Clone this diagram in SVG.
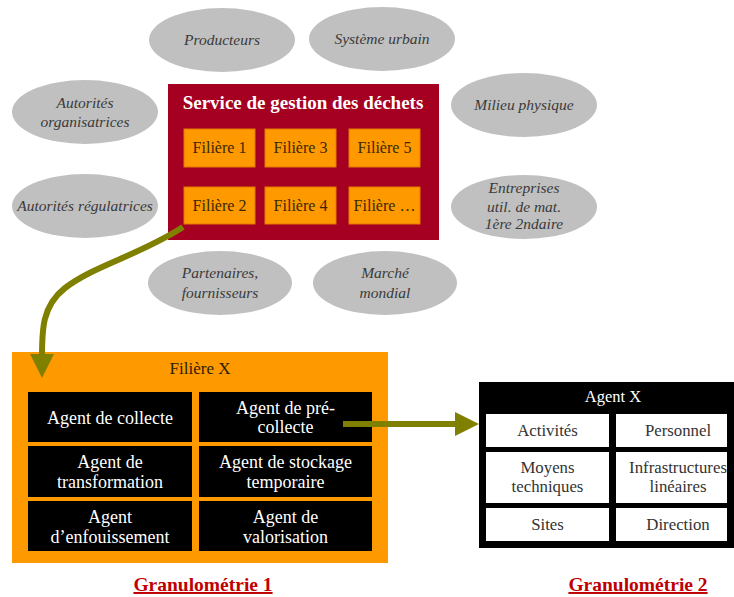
<svg xmlns="http://www.w3.org/2000/svg" width="734" height="597" viewBox="0 0 734 597">
<style>
.ell{fill:#C0C0C0}
.et{font-family:"Liberation Serif",serif;font-style:italic;font-size:15.5px;fill:#3a3a3a;text-anchor:middle}
.fil{fill:#FF9900;stroke:#E27A00;stroke-width:1}
.ft{font-family:"Liberation Serif",serif;font-size:16px;fill:#3a2800;text-anchor:middle}
.blk{fill:#000}
.wt{font-family:"Liberation Serif",serif;font-size:18px;fill:#fff;text-anchor:middle}
.cell{fill:#fff}
.ct{font-family:"Liberation Serif",serif;font-size:16.8px;fill:#333;text-anchor:middle}
.gr{font-family:"Liberation Serif",serif;font-size:19.5px;font-weight:bold;fill:#C00000;text-anchor:middle;text-decoration:underline}
.con{fill:none;stroke:#808000;stroke-width:6}
</style>
<defs>
<marker id="ah" markerWidth="4" markerHeight="4" refX="0.5" refY="2" orient="auto" markerUnits="strokeWidth">
<path d="M0,0 L4,2 L0,4 Z" fill="#808000"/>
</marker>
</defs>

<g id="producteurs"><ellipse class="ell" cx="222" cy="40" rx="73" ry="32"/><text class="et" x="222" y="45">Producteurs</text></g>
<g id="systeme-urbain"><ellipse class="ell" cx="382" cy="39" rx="73" ry="32"/><text class="et" x="382" y="44">Système urbain</text></g>
<g id="autorites-organisatrices"><ellipse class="ell" cx="85" cy="112" rx="73" ry="32"/><text class="et" x="85" y="108">Autorités</text><text class="et" x="85" y="127">organisatrices</text></g>
<g id="milieu-physique"><ellipse class="ell" cx="524" cy="105" rx="73" ry="32"/><text class="et" x="524" y="110">Milieu physique</text></g>
<g id="autorites-regulatrices"><ellipse class="ell" cx="85" cy="206" rx="73" ry="32"/><text class="et" x="85" y="211">Autorités régulatrices</text></g>
<g id="entreprises"><ellipse class="ell" cx="524" cy="207" rx="73" ry="32"/><text class="et" x="524" y="193">Entreprises</text><text class="et" x="524" y="212">util. de mat.</text><text class="et" x="524" y="229">1ère 2ndaire</text></g>
<g id="partenaires"><ellipse class="ell" cx="220" cy="283" rx="72" ry="32"/><text class="et" x="220" y="278">Partenaires,</text><text class="et" x="220" y="298">fournisseurs</text></g>
<g id="marche-mondial"><ellipse class="ell" cx="385" cy="283" rx="72" ry="32"/><text class="et" x="385" y="278">Marché</text><text class="et" x="385" y="298">mondial</text></g>

<g id="service">
<rect x="168" y="84" width="271" height="156" fill="#A50021"/>
<text x="303" y="109" font-family="Liberation Serif,serif" font-size="19" font-weight="bold" fill="#fff" text-anchor="middle">Service de gestion des déchets</text>
</g>
<g id="filiere-1"><rect class="fil" x="184" y="129" width="71" height="38"/><text class="ft" x="219.5" y="153">Filière 1</text></g>
<g id="filiere-3"><rect class="fil" x="265" y="129" width="71" height="38"/><text class="ft" x="300.5" y="153">Filière 3</text></g>
<g id="filiere-5"><rect class="fil" x="349" y="129" width="71" height="38"/><text class="ft" x="384.5" y="153">Filière 5</text></g>
<g id="filiere-2"><rect class="fil" x="184" y="187" width="71" height="37"/><text class="ft" x="219.5" y="211">Filière 2</text></g>
<g id="filiere-4"><rect class="fil" x="265" y="187" width="71" height="37"/><text class="ft" x="300.5" y="211">Filière 4</text></g>
<g id="filiere-n"><rect class="fil" x="349" y="187" width="71" height="37"/><text class="ft" x="384.5" y="211">Filière …</text></g>

<g id="filiere-x">
<rect x="12" y="352" width="376" height="211" fill="#FF9900"/>
<text x="200" y="374" font-family="Liberation Serif,serif" font-size="17" fill="#2a2000" text-anchor="middle">Filière X</text>
</g>
<g id="agent-collecte"><rect class="blk" x="28" y="392" width="164" height="50"/><text class="wt" x="110" y="424">Agent de collecte</text></g>
<g id="agent-precollecte"><rect class="blk" x="199" y="392" width="173" height="50"/><text class="wt" x="285.5" y="414">Agent de pré-</text><text class="wt" x="285.5" y="433">collecte</text></g>
<g id="agent-transformation"><rect class="blk" x="28" y="446" width="164" height="51"/><text class="wt" x="110" y="468">Agent de</text><text class="wt" x="110" y="488">transformation</text></g>
<g id="agent-stockage"><rect class="blk" x="199" y="446" width="173" height="51"/><text class="wt" x="285.5" y="468">Agent de stockage</text><text class="wt" x="285.5" y="488">temporaire</text></g>
<g id="agent-enfouissement"><rect class="blk" x="28" y="501" width="164" height="50"/><text class="wt" x="110" y="523">Agent</text><text class="wt" x="110" y="543">d’enfouissement</text></g>
<g id="agent-valorisation"><rect class="blk" x="199" y="501" width="173" height="50"/><text class="wt" x="285.5" y="523">Agent de</text><text class="wt" x="285.5" y="543">valorisation</text></g>

<g id="agent-x">
<rect x="479" y="382" width="255" height="166" fill="#000"/>
<text x="613" y="402" font-family="Liberation Serif,serif" font-size="16.5" fill="#fff" text-anchor="middle">Agent X</text>
<rect class="cell" x="486" y="414" width="123" height="33"/><text class="ct" x="547.5" y="436">Activités</text>
<rect class="cell" x="616" y="414" width="111" height="33"/><text class="ct" x="678" y="436">Personnel</text>
<rect class="cell" x="486" y="452" width="123" height="51"/><text class="ct" x="547.5" y="473">Moyens</text><text class="ct" x="547.5" y="492">techniques</text>
<rect class="cell" x="616" y="452" width="111" height="51"/><text class="ct" x="678" y="473">Infrastructures</text><text class="ct" x="678" y="492">linéaires</text>
<rect class="cell" x="486" y="508" width="123" height="33"/><text class="ct" x="547.5" y="530">Sites</text>
<rect class="cell" x="616" y="508" width="111" height="33"/><text class="ct" x="678" y="530">Direction</text>
</g>

<g id="connectors">
<path class="con" d="M183,227 C140,255 95,265 65,288 C42,306 42,330 42,357" marker-end="url(#ah)"/>
<path class="con" d="M343,424 L458,424" marker-end="url(#ah)"/>
</g>

<g id="labels">
<text class="gr" x="203" y="591">Granulométrie 1</text>
<text class="gr" x="638" y="591">Granulométrie 2</text>
</g>
</svg>
